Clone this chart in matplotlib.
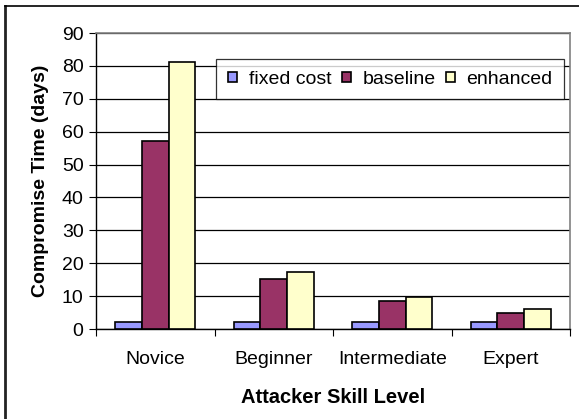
import matplotlib
matplotlib.use("Agg")
import matplotlib.pyplot as plt
import numpy as np
from matplotlib.lines import Line2D

categories = ["Novice", "Beginner", "Intermediate", "Expert"]
series_names = ["fixed cost", "baseline", "enhanced"]
fixed_cost = [2.0, 2.0, 2.0, 2.0]
baseline = [57.3, 15.1, 8.6, 4.8]
enhanced = [81.2, 17.2, 9.6, 6.0]
colors = ["#9999FF", "#993366", "#FFFFCC"]
yticks = [0, 10, 20, 30, 40, 50, 60, 70, 80, 90]

plt.rcParams['font.family'] = ['Liberation Sans', 'DejaVu Sans']

fig = plt.figure(figsize=(5.79, 4.19), dpi=100)
ax = fig.add_axes([96/579, 1-329/419, (570-96)/579, (329-33)/419])

x = np.arange(len(categories))
w = 0.225
for i, (vals, name, c) in enumerate(zip([fixed_cost, baseline, enhanced], series_names, colors)):
    ax.bar(x + (i-1)*w, vals, width=w, color=c, edgecolor='black', linewidth=1.2,
           label=name, zorder=3)

ax.set_xlim(-0.5, 3.5)
ax.set_ylim(0, 90)
ax.set_yticks(yticks)
ax.set_yticklabels([str(t) for t in yticks], fontsize=14)
ax.yaxis.grid(True, color='black', linewidth=0.9, zorder=0)
ax.set_axisbelow(True)

ax.set_xticks(np.arange(-0.5, 4.0, 1.0), minor=False)
ax.set_xticklabels([])
ax.set_xticks(x, minor=True)
ax.set_xticklabels(categories, minor=True, fontsize=14)
ax.tick_params(axis='x', which='minor', length=0, pad=16)
ax.tick_params(axis='x', which='major', length=5, width=0.8, direction='out', color='black')
ax.tick_params(axis='y', length=5, width=0.8, direction='out', pad=4)

for s in ['top', 'right']:
    ax.spines[s].set_color('#808080')
    ax.spines[s].set_linewidth(1.2)
for s in ['left', 'bottom']:
    ax.spines[s].set_color('black')
    ax.spines[s].set_linewidth(1.0)

ax.set_ylabel("Compromise Time (days)", fontsize=14, fontweight='bold', labelpad=9)
ax.set_xlabel("Attacker Skill Level", fontsize=14.5, fontweight='bold', labelpad=14)

leg = ax.legend(ncol=3, loc='upper right', bbox_to_anchor=(0.988, 0.912),
                fontsize=14, frameon=True, fancybox=False, edgecolor='black',
                handlelength=0.45, handleheight=0.45, handletextpad=0.6,
                columnspacing=0.55, borderpad=0.6, borderaxespad=0)
leg.get_frame().set_linewidth(0.9)
leg.set_zorder(5)

# outer chart frame (left and top edges visible)
fig.add_artist(Line2D([5/579, 5/579], [0, 1-6/419], transform=fig.transFigure,
                      color='#222222', linewidth=2.0))
fig.add_artist(Line2D([5/579, 1], [1-6/419, 1-6/419], transform=fig.transFigure,
                      color='black', linewidth=1.2))

fig.savefig("out.png", dpi=100)
